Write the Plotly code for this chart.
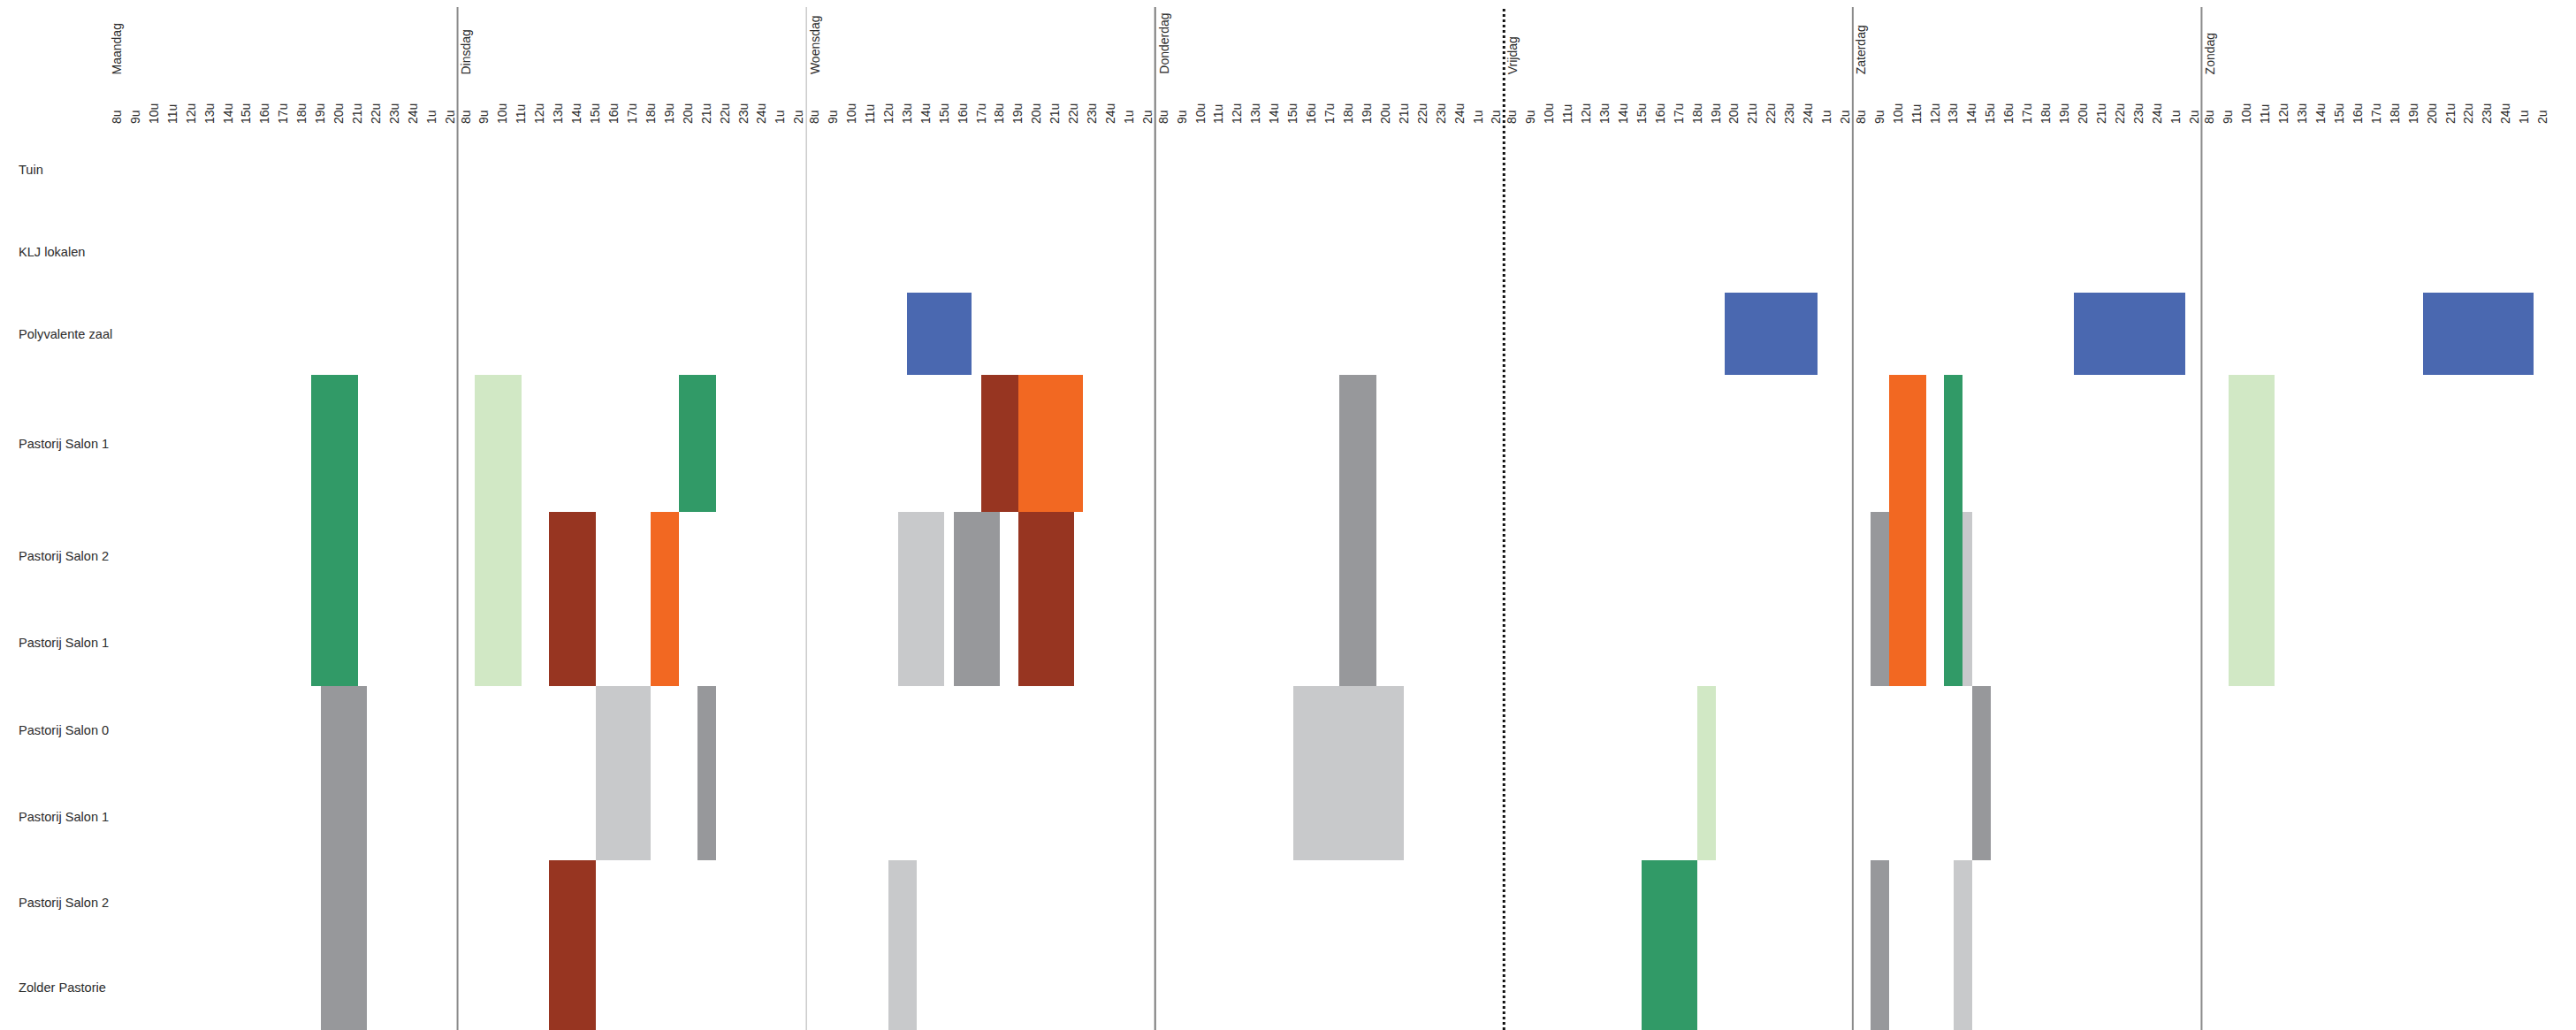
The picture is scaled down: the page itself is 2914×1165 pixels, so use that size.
import numpy as np
import plotly.graph_objects as go

# rooms, top to bottom
rooms = ["Tuin", "KLJ lokalen", "Polyvalente zaal", "Pastorij Salon 1", "Pastorij Salon 2",
         "Pastorij Salon 1", "Pastorij Salon 0", "Pastorij Salon 1", "Pastorij Salon 2", "Zolder Pastorie"]
days = ["Maandag", "Dinsdag", "Woensdag", "Donderdag", "Vrijdag", "Zaterdag", "Zondag"]
hour_labels = ["8u", "9u", "10u", "11u", "12u", "13u", "14u", "15u", "16u", "17u",
               "18u", "19u", "20u", "21u", "22u", "23u", "24u", "1u", "2u"]

# reservations: day index, start hour, end hour, first room row, last room row, type
res_day = [0, 0,
           1, 1, 1, 1, 1, 1, 1,
           2, 2, 2, 2, 2, 2, 2,
           3, 3,
           4, 4, 4,
           5, 5, 5, 5, 5, 5, 5, 5,
           6, 6]
res_start = [18.5, 19.0,
             8.5, 12.5, 15.0, 18.0, 19.5, 20.5, 12.5,
             13.0, 17.0, 19.0, 12.5, 15.5, 19.0, 12.0,
             17.5, 15.0,
             19.5, 18.0, 15.0,
             19.5, 9.5, 12.5, 8.5, 13.5, 14.0, 8.5, 13.0,
             19.5, 9.0]
res_end = [21.0, 21.5,
           11.0, 15.0, 18.0, 19.5, 21.5, 21.5, 15.0,
           16.5, 19.0, 22.5, 15.0, 18.0, 22.0, 13.5,
           19.5, 21.0,
           24.5, 19.0, 18.0,
           25.5, 11.5, 13.5, 9.5, 14.0, 15.0, 9.5, 14.0,
           25.5, 11.5]
res_row_from = [3, 6,
                3, 4, 6, 4, 3, 6, 8,
                2, 3, 3, 4, 4, 4, 8,
                3, 6,
                2, 6, 8,
                2, 3, 3, 4, 4, 6, 8, 8,
                2, 3]
res_row_to = [5, 9,
              5, 5, 7, 5, 3, 7, 9,
              2, 3, 3, 5, 5, 5, 9,
              5, 7,
              2, 7, 9,
              2, 5, 5, 5, 5, 7, 9, 9,
              2, 5]
res_type = ["groen", "grijs",
            "lichtgroen", "rood", "lichtgrijs", "oranje", "groen", "grijs", "rood",
            "blauw", "rood", "oranje", "lichtgrijs", "grijs", "rood", "lichtgrijs",
            "grijs", "lichtgrijs",
            "blauw", "lichtgroen", "groen",
            "blauw", "oranje", "groen", "grijs", "lichtgrijs", "grijs", "grijs", "lichtgrijs",
            "blauw", "lichtgroen"]

# styling / layout
type_colors = {"groen": "#319a67", "lichtgroen": "#d1e8c5", "rood": "#973521", "oranje": "#f26822",
               "grijs": "#97989b", "lichtgrijs": "#c8c9cb", "blauw": "#4a68b0"}
row_heights = [93, 93, 93, 155, 99, 98, 99, 98, 96, 96]
row_edges = np.concatenate([[0], np.cumsum(row_heights)])
H0 = 7.55          # hour at the left edge of a day column
W = 18.85          # width of a day column in hours

def xpos(d, h):
    return d * W + (h - H0)

fig = go.Figure()

for t, col in type_colors.items():
    idx = [i for i in range(len(res_type)) if res_type[i] == t]
    fig.add_trace(go.Bar(
        orientation="h",
        base=[xpos(res_day[i], res_start[i]) for i in idx],
        x=[res_end[i] - res_start[i] for i in idx],
        y=[(row_edges[res_row_from[i]] + row_edges[res_row_to[i] + 1]) / 2 for i in idx],
        width=[row_edges[res_row_to[i] + 1] - row_edges[res_row_from[i]] for i in idx],
        marker=dict(color=col, line=dict(width=0)),
        hoverinfo="skip", showlegend=False,
    ))

tickvals = [xpos(d, 8 + i) for d in range(len(days)) for i in range(len(hour_labels))]
ticktext = [lab for d in range(len(days)) for lab in hour_labels]

# day separators
line_styles = [dict(color="#8a8a8a", width=2), dict(color="#b0b0b0", width=1),
               dict(color="#7a7a7a", width=2), dict(color="#111111", width=3, dash="dot"),
               dict(color="#8a8a8a", width=2), dict(color="#8a8a8a", width=2)]
for d in range(1, len(days)):
    fig.add_shape(type="line", xref="x", yref="paper", x0=d * W, x1=d * W, y0=0, y1=1.139,
                  line=line_styles[d - 1], layer="above")

for d, name in enumerate(days):
    fig.add_annotation(x=xpos(d, 8), y=1.0578, xref="x", yref="paper", text=name,
                       textangle=-90, showarrow=False, xanchor="center", yanchor="bottom",
                       font=dict(size=14, color="#2b2b2b"))

for r, name in enumerate(rooms):
    fig.add_annotation(x=-0.0377, xref="paper", y=(row_edges[r] + row_edges[r + 1]) / 2, yref="y",
                       text=name, showarrow=False, xanchor="left", yanchor="middle",
                       font=dict(size=14.6, color="#2b2b2b"))

# the page body adds 8px around the figure
fig.update_layout(
    width=2906, height=1157,
    margin=dict(l=115, r=29, t=137, b=0),
    plot_bgcolor="white", paper_bgcolor="white",
    barmode="overlay", bargap=0,
    font=dict(family="Liberation Sans, Arial, sans-serif", size=14, color="#2b2b2b"),
    xaxis=dict(range=[0, 7 * W], side="top", tickmode="array", tickvals=tickvals, ticktext=ticktext,
               tickangle=-90, showgrid=False, zeroline=False, showline=False, ticks="",
               ticklabelstandoff=4, tickfont=dict(size=14, color="#2b2b2b")),
    yaxis=dict(range=[row_edges[-1], 0], showgrid=False, zeroline=False, showline=False,
               showticklabels=False, ticks=""),
)

fig.write_html("out.html")
